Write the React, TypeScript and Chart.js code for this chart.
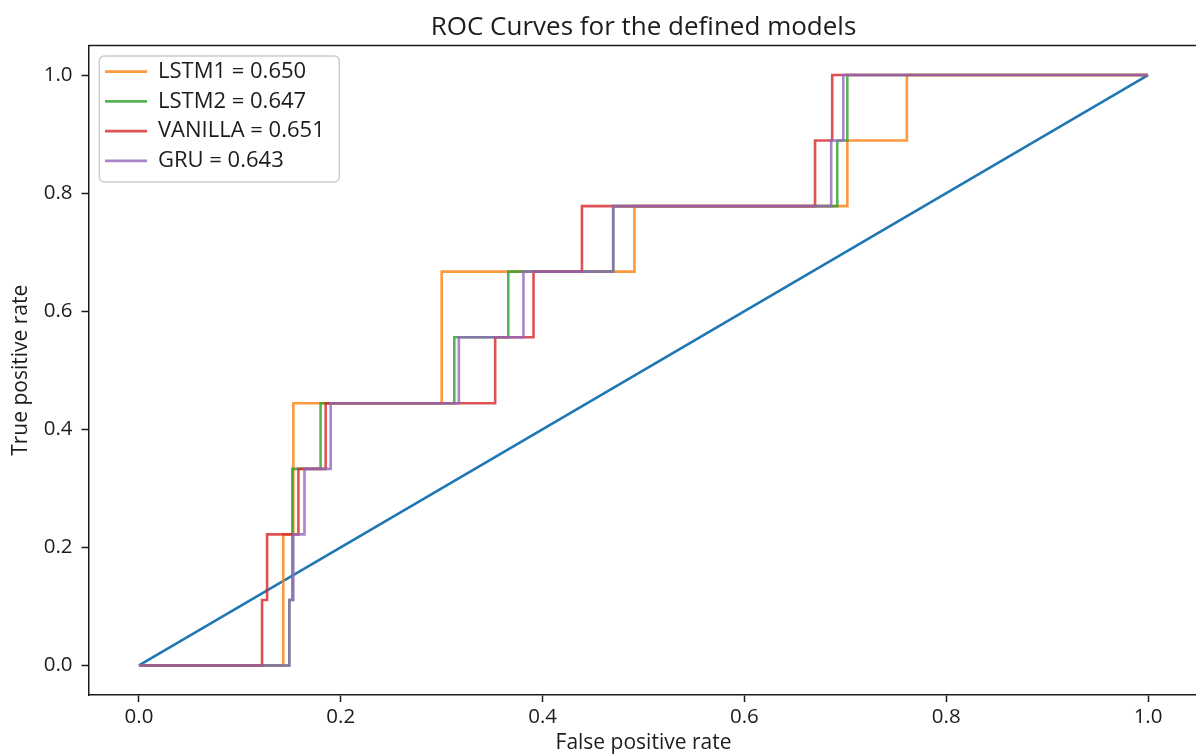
import React, { useEffect, useRef } from 'react';
import { Chart, registerables } from 'chart.js';

Chart.register(...registerables);

const FONT = '"Open Sans", "Noto Sans", sans-serif';
const TEXT_COLOR = '#1c1c1c';

const chartTitle = 'ROC Curves for the defined models';
const xAxisTitle = 'False positive rate';
const yAxisTitle = 'True positive rate';

const xTickValues = [0, 0.2, 0.4, 0.6, 0.8, 1.0];
const xTickLabels = ['0.0', '0.2', '0.4', '0.6', '0.8', '1.0'];
const yTickValues = [0, 0.2, 0.4, 0.6, 0.8, 1.0];
const yTickLabels = ['0.0', '0.2', '0.4', '0.6', '0.8', '1.0'];

const seriesNames = ['LSTM1 = 0.650', 'LSTM2 = 0.647', 'VANILLA = 0.651', 'GRU = 0.643'];

const chanceFpr = [0, 1];
const chanceTpr = [0, 1];

const lstm1Fpr = [0, 0.143, 0.143, 0.153, 0.153, 0.300, 0.300, 0.491, 0.491, 0.702, 0.702, 0.761, 0.761, 1.0];
const lstm1Tpr = [0, 0, 0.222, 0.222, 0.444, 0.444, 0.667, 0.667, 0.778, 0.778, 0.889, 0.889, 1.0, 1.0];

const lstm2Fpr = [0, 0.149, 0.149, 0.152, 0.152, 0.180, 0.180, 0.3125, 0.3125, 0.366, 0.366, 0.470, 0.470, 0.692, 0.692, 0.702, 0.702, 1.0];
const lstm2Tpr = [0, 0, 0.111, 0.111, 0.333, 0.333, 0.444, 0.444, 0.556, 0.556, 0.667, 0.667, 0.778, 0.778, 0.889, 0.889, 1.0, 1.0];

const vanillaFpr = [0, 0.122, 0.122, 0.127, 0.127, 0.158, 0.158, 0.185, 0.185, 0.353, 0.353, 0.391, 0.391, 0.439, 0.439, 0.670, 0.670, 0.687, 0.687, 1.0];
const vanillaTpr = [0, 0, 0.111, 0.111, 0.222, 0.222, 0.333, 0.333, 0.444, 0.444, 0.556, 0.556, 0.667, 0.667, 0.778, 0.778, 0.889, 0.889, 1.0, 1.0];

const gruFpr = [0, 0.149, 0.149, 0.153, 0.153, 0.164, 0.164, 0.190, 0.190, 0.317, 0.317, 0.381, 0.381, 0.470, 0.470, 0.686, 0.686, 0.698, 0.698, 1.0];
const gruTpr = [0, 0, 0.111, 0.111, 0.222, 0.222, 0.333, 0.333, 0.444, 0.444, 0.556, 0.556, 0.667, 0.667, 0.778, 0.778, 0.889, 0.889, 1.0, 1.0];

const chanceColor = 'rgb(31,119,180)';
const seriesColors = [
  'rgba(255,127,14,0.8)',
  'rgba(44,160,44,0.8)',
  'rgba(214,39,40,0.8)',
  'rgba(148,103,189,0.8)',
];

const toPoints = (xs: number[], ys: number[]) => xs.map((x, i) => ({ x, y: ys[i] }));

const framePlugin = {
  id: 'mplFrame',
  afterLayout(chart: any) {
    const lg = chart.legend;
    const ca = chart.chartArea;
    if (lg && ca) {
      lg.left = ca.left + 8.8;
      lg.top = ca.top + 7.5;
    }
  },
  beforeDraw(chart: any) {
    const lg = chart.legend;
    if (!lg) return;
    const ctx = chart.ctx;
    const x = lg.left + 2;
    const y = lg.top + 3;
    const w = 240;
    const h = 126;
    ctx.save();
    ctx.beginPath();
    ctx.roundRect(x, y, w, h, 5);
    ctx.fillStyle = 'rgba(255,255,255,0.8)';
    ctx.fill();
    ctx.lineWidth = 1.5;
    ctx.strokeStyle = '#cccccc';
    ctx.stroke();
    ctx.restore();
  },
  afterDraw(chart: any) {
    const { ctx, chartArea } = chart;
    ctx.save();
    ctx.strokeStyle = TEXT_COLOR;
    ctx.lineWidth = 1.5;
    ctx.beginPath();
    ctx.moveTo(chartArea.left, chartArea.top);
    ctx.lineTo(chartArea.right, chartArea.top);
    ctx.lineTo(chartArea.right, chartArea.bottom);
    ctx.stroke();
    ctx.restore();
  },
};

export default function App() {
  const canvasRef = useRef<HTMLCanvasElement | null>(null);

  useEffect(() => {
    document.body.style.margin = '0';
    document.body.style.overflow = 'hidden';
    const canvas = canvasRef.current;
    if (!canvas) return;

    const mk = (label: string, fpr: number[], tpr: number[], color: string, order: number) => ({
      label,
      data: toPoints(fpr, tpr),
      borderColor: color,
      backgroundColor: color,
      pointBorderColor: color,
      pointBackgroundColor: color,
      borderWidth: 2.6,
      pointBorderWidth: 2.8,
      pointRadius: 0,
      pointHoverRadius: 0,
      tension: 0,
      fill: false,
      order,
    });

    const chart = new Chart(canvas, {
      type: 'line',
      data: {
        datasets: [
          mk('chance', chanceFpr, chanceTpr, chanceColor, 4),
          mk(seriesNames[0], lstm1Fpr, lstm1Tpr, seriesColors[0], 3),
          mk(seriesNames[1], lstm2Fpr, lstm2Tpr, seriesColors[1], 2),
          mk(seriesNames[2], vanillaFpr, vanillaTpr, seriesColors[2], 1),
          mk(seriesNames[3], gruFpr, gruTpr, seriesColors[3], 0),
        ],
      },
      options: {
        responsive: false,
        animation: false,
        devicePixelRatio: 1,
        events: [],
        layout: { padding: { left: 0, right: 11.5, top: 0, bottom: 0 } },
        scales: {
          x: {
            type: 'linear',
            min: -0.05,
            max: 1.05,
            afterBuildTicks: (s: any) => {
              s.ticks = xTickValues.map((v) => ({ value: v }));
            },
            afterFit: (s: any) => {
              s.height = 60;
            },
            ticks: {
              callback: (_v: any, i: number) => xTickLabels[i],
              font: { family: FONT, size: 20.5 },
              color: TEXT_COLOR,
              padding: 3,
              maxRotation: 0,
              autoSkip: false,
            },
            grid: { display: true, drawOnChartArea: false, drawTicks: true, tickLength: 7, tickColor: TEXT_COLOR, tickWidth: 1.5 },
            border: { display: true, color: TEXT_COLOR, width: 1.5 },
            title: {
              display: true,
              text: xAxisTitle,
              font: { family: FONT, size: 21 },
              color: TEXT_COLOR,
              padding: { top: 0, bottom: -1 },
            },
          },
          y: {
            type: 'linear',
            min: -0.05,
            max: 1.05,
            afterBuildTicks: (s: any) => {
              s.ticks = yTickValues.map((v) => ({ value: v }));
            },
            afterFit: (s: any) => {
              s.width = 88.5;
            },
            ticks: {
              callback: (_v: any, i: number) => yTickLabels[i],
              font: { family: FONT, size: 20.5 },
              color: TEXT_COLOR,
              padding: 9,
              autoSkip: false,
            },
            grid: { display: true, drawOnChartArea: false, drawTicks: true, tickLength: 7, tickColor: TEXT_COLOR, tickWidth: 1.5 },
            border: { display: true, color: TEXT_COLOR, width: 1.5 },
            title: {
              display: true,
              text: yAxisTitle,
              font: { family: FONT, size: 21 },
              color: TEXT_COLOR,
              padding: { top: 8, bottom: 0 },
            },
          },
        },
        plugins: {
          title: {
            display: true,
            text: chartTitle,
            fullSize: false,
            font: { family: FONT, size: 26, weight: 'normal' },
            color: TEXT_COLOR,
            padding: { top: 12.2, bottom: 2.1 },
          },
          legend: {
            position: 'chartArea',
            align: 'start',
            labels: {
              usePointStyle: true,
              pointStyle: 'line',
              pointStyleWidth: 42,
              font: { family: FONT, size: 22 },
              color: TEXT_COLOR,
              padding: 7.7,
              filter: (item: any) => item.datasetIndex !== 0,
              sort: (a: any, b: any) => a.datasetIndex - b.datasetIndex,
            },
          },
          tooltip: { enabled: false },
        },
      } as any,
      plugins: [framePlugin],
    });

    return () => {
      chart.destroy();
    };
  }, []);

  return (
    <div style={{ position: 'fixed', left: 0, top: 0, width: 1196, height: 755, overflow: 'hidden', background: '#fff' }}>
      <canvas ref={canvasRef} width={1210} height={755} style={{ display: 'block', width: 1210, height: 755 }} />
    </div>
  );
}
